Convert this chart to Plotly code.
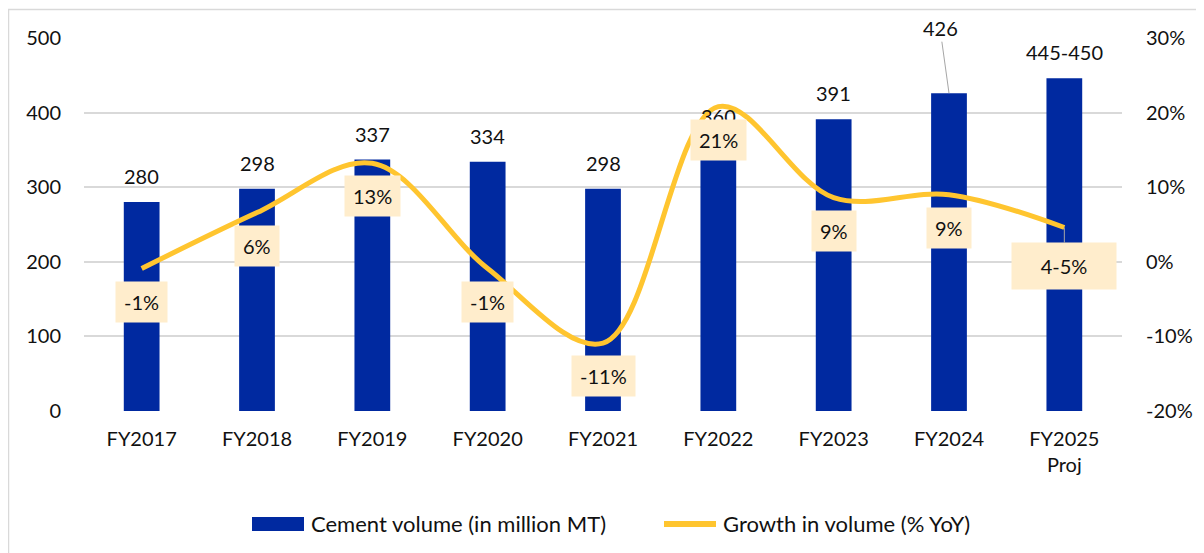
import plotly.graph_objects as go

categories = ["FY2017", "FY2018", "FY2019", "FY2020", "FY2021", "FY2022", "FY2023", "FY2024", "FY2025<br>Proj"]
volume = [280, 298, 337, 334, 298, 360, 391, 426, 446]
volume_labels = ["280", "298", "337", "334", "298", "360", "391", "426", "445-450"]
growth = [-0.9, 6.6, 13.2, -0.9, -10.9, 20.8, 8.6, 9.0, 4.6]
growth_labels = ["-1%", "6%", "13%", "-1%", "-11%", "21%", "9%", "9%", "4-5%"]
y2_ticks = [-20, -10, 0, 10, 20, 30]
y2_ticktext = ["-20%", "-10%", "0%", "10%", "20%", "30%"]

FONT = "Lato"
BAR_COLOR = "#0029A0"
LINE_COLOR = "#FFC52F"
LABEL_BG = "#FFEDCC"
GRID = "#D9D9D9"
TXT = "#111111"

# page body has an 8px margin, so the figure is drawn 8px right/down of the window edge
OFF = 8
W, H = 1204, 553
ML, MT = 84 - OFF, 38 - OFF
MR = W - (1122 - OFF)
MB = H - (411 - OFF)
PW, PH = W - ML - MR, H - MT - MB


def px(sx):
    """screen x -> paper x"""
    return (sx - OFF - ML) / PW


def py(sy):
    """screen y -> paper y"""
    return (H - MB - (sy - OFF)) / PH


fig = go.Figure()
fig.add_trace(go.Bar(
    x=categories, y=volume, name="Cement volume (in million MT)",
    marker=dict(color=BAR_COLOR, line=dict(width=0)), width=0.31,
    yaxis="y", showlegend=False,
))
fig.add_trace(go.Scatter(
    x=categories, y=growth, name="Growth in volume (% YoY)", yaxis="y2",
    mode="lines", line=dict(color=LINE_COLOR, width=5, shape="spline", smoothing=1.0),
    showlegend=False,
))

annotations = []
# bar value labels
for c, v, t in zip(categories, volume, volume_labels):
    if t == "426":
        annotations.append(dict(x=c, y=v, xref="x", yref="y", text=t, showarrow=True,
                                ax=-9, ay=-65, arrowhead=0, arrowwidth=1, arrowcolor="#A6A6A6",
                                font=dict(family=FONT, size=20, color=TXT)))
    else:
        annotations.append(dict(x=c, y=v, xref="x", yref="y", text=t, showarrow=False,
                                yanchor="middle", yshift=26,
                                font=dict(family=FONT, size=20, color=TXT)))
# growth labels
for c, g, t in zip(categories, growth, growth_labels):
    if t == "4-5%":
        annotations.append(dict(x=c, y=g, xref="x", yref="y2", text=t, showarrow=True,
                                ax=0, ay=39, arrowhead=0, arrowwidth=1, arrowcolor="#A6A6A6",
                                bgcolor=LABEL_BG, borderpad=8, width=88, height=30,
                                font=dict(family=FONT, size=20, color=TXT)))
    else:
        annotations.append(dict(x=c, y=g, xref="x", yref="y2", text=t, showarrow=False,
                                yanchor="middle", yshift=-33, bgcolor=LABEL_BG, borderpad=8,
                                font=dict(family=FONT, size=20, color=TXT)))

# custom legend (wide swatches as in the reference)
annotations.append(dict(xref="paper", yref="paper", x=px(309), y=py(523), xanchor="left",
                        yanchor="middle", text="Cement volume (in million MT)", showarrow=False,
                        font=dict(family=FONT, size=22, color=TXT)))
annotations.append(dict(xref="paper", yref="paper", x=px(721), y=py(523), xanchor="left",
                        yanchor="middle", text="Growth in volume (% YoY)", showarrow=False,
                        font=dict(family=FONT, size=22, color=TXT)))

shapes = [
    dict(type="rect", xref="paper", yref="paper", x0=px(8.5), x1=px(1250), y0=py(9.5), y1=py(600),
         line=dict(color=GRID, width=1.5), fillcolor="rgba(0,0,0,0)", layer="below"),
    dict(type="rect", xref="paper", yref="paper", x0=px(252), x1=px(304), y0=py(517), y1=py(531),
         line=dict(width=0), fillcolor=BAR_COLOR),
    dict(type="line", xref="paper", yref="paper", x0=px(664), x1=px(716), y0=py(524), y1=py(524),
         line=dict(color=LINE_COLOR, width=6)),
]

fig.update_layout(
    width=W, height=H,
    margin=dict(l=ML, r=MR, t=MT, b=MB, pad=0),
    paper_bgcolor="white", plot_bgcolor="white",
    font=dict(family=FONT, size=20, color=TXT),
    xaxis=dict(type="category", showgrid=False, showline=False, ticks="",
               ticklabelstandoff=14, tickfont=dict(size=20, color=TXT)),
    yaxis=dict(range=[0, 500], dtick=100, showgrid=True, gridcolor=GRID, gridwidth=1.5,
               zeroline=False, showline=False, ticks="", ticklabelstandoff=22,
               tickfont=dict(size=20, color=TXT)),
    yaxis2=dict(range=[-20, 30], tickvals=y2_ticks, ticktext=y2_ticktext, overlaying="y",
                side="right", showgrid=False, zeroline=False, showline=False, ticks="",
                ticklabelstandoff=23, tickfont=dict(size=20, color=TXT)),
    showlegend=False,
    annotations=annotations,
    shapes=shapes,
)

fig.write_html("out.html")
